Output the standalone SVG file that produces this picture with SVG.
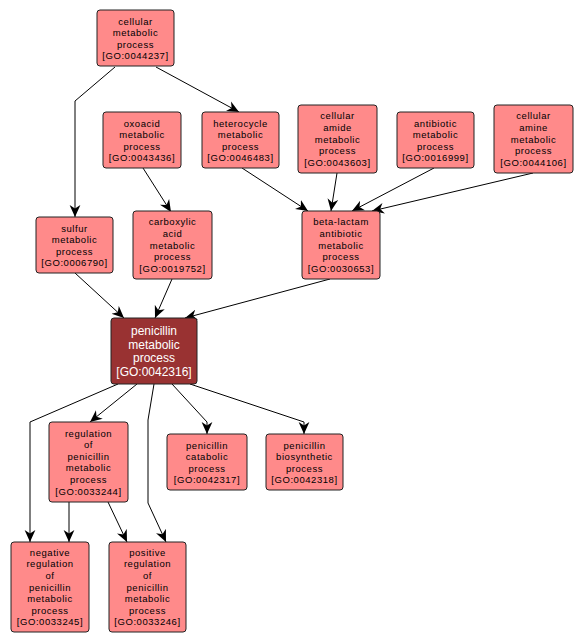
<svg xmlns="http://www.w3.org/2000/svg" width="582" height="644" viewBox="0 0 582 644">
<style>
.n rect{fill:#ff8a8a;stroke:#222;stroke-width:1}
.n text{font-family:"Liberation Sans",Arial,sans-serif;font-size:9.5px;letter-spacing:0.55px;text-anchor:middle;fill:#000}
.m rect{fill:#993232;stroke:#222;stroke-width:1}
.m text{font-family:"Liberation Sans",Arial,sans-serif;font-size:12px;text-anchor:middle;fill:#fff}
.e path{fill:none;stroke:#000;stroke-width:1;marker-end:url(#a)}
</style>
<defs>
<marker id="a" markerUnits="userSpaceOnUse" markerWidth="12" markerHeight="12" viewBox="0 0 10 10" refX="10" refY="5" orient="auto">
<path d="M0,0.5 L10,5 L0,9.5 L3,5 z" fill="#000"/>
</marker>
</defs>
<rect width="582" height="644" fill="#fff"/>
<g id="edges" class="e">
<path d="M115,67 L75,101 L75,217"/>
<path d="M156,67 L239,112"/>
<path d="M143,168 L171,212"/>
<path d="M242,168 L308,211"/>
<path d="M337,173 L331,211"/>
<path d="M434,168 L352,211"/>
<path d="M533,173 L372,211"/>
<path d="M75,273 L124,318"/>
<path d="M172,279 L155,318"/>
<path d="M330,279 L185,318"/>
<path d="M118,384 L30,422 L30,542"/>
<path d="M137,384 L90,422"/>
<path d="M154,384 L148,420 L148,503 L166,542"/>
<path d="M172,384 L207,422 L207,434"/>
<path d="M190,384 L304,422 L304,434"/>
<path d="M69,502 L69,542"/>
<path d="M108,502 L127,542"/>
</g>
<g id="n1" class="n"><rect x="97" y="10" width="77" height="56" rx="3"/>
<text x="135.5" y="24.6">cellular</text><text x="135.5" y="36.2">metabolic</text><text x="135.5" y="47.8">process</text><text x="135.5" y="59.4">[GO:0044237]</text></g>
<g id="n2" class="n"><rect x="103" y="112" width="78" height="56" rx="3"/>
<text x="142" y="126.6">oxoacid</text><text x="142" y="138.2">metabolic</text><text x="142" y="149.8">process</text><text x="142" y="161.4">[GO:0043436]</text></g>
<g id="n3" class="n"><rect x="202" y="112" width="77" height="56" rx="3"/>
<text x="240.5" y="126.6">heterocycle</text><text x="240.5" y="138.2">metabolic</text><text x="240.5" y="149.8">process</text><text x="240.5" y="161.4">[GO:0046483]</text></g>
<g id="n4" class="n"><rect x="298" y="105" width="79" height="68" rx="3"/>
<text x="337.5" y="119.3">cellular</text><text x="337.5" y="130.9">amide</text><text x="337.5" y="142.5">metabolic</text><text x="337.5" y="154.1">process</text><text x="337.5" y="165.7">[GO:0043603]</text></g>
<g id="n5" class="n"><rect x="397" y="112" width="77" height="56" rx="3"/>
<text x="435.5" y="126.6">antibiotic</text><text x="435.5" y="138.2">metabolic</text><text x="435.5" y="149.8">process</text><text x="435.5" y="161.4">[GO:0016999]</text></g>
<g id="n6" class="n"><rect x="494" y="105" width="79" height="68" rx="3"/>
<text x="533.5" y="119.3">cellular</text><text x="533.5" y="130.9">amine</text><text x="533.5" y="142.5">metabolic</text><text x="533.5" y="154.1">process</text><text x="533.5" y="165.7">[GO:0044106]</text></g>
<g id="n7" class="n"><rect x="302" y="211" width="78" height="68" rx="3"/>
<text x="341" y="225.3">beta-lactam</text><text x="341" y="236.9">antibiotic</text><text x="341" y="248.5">metabolic</text><text x="341" y="260.1">process</text><text x="341" y="271.7">[GO:0030653]</text></g>
<g id="n8" class="n"><rect x="36" y="217" width="77" height="56" rx="3"/>
<text x="74.5" y="231.6">sulfur</text><text x="74.5" y="243.2">metabolic</text><text x="74.5" y="254.8">process</text><text x="74.5" y="266.4">[GO:0006790]</text></g>
<g id="n9" class="n"><rect x="133" y="211" width="79" height="68" rx="3"/>
<text x="172.5" y="225.3">carboxylic</text><text x="172.5" y="236.9">acid</text><text x="172.5" y="248.5">metabolic</text><text x="172.5" y="260.1">process</text><text x="172.5" y="271.7">[GO:0019752]</text></g>
<g id="n10" class="m"><rect x="111" y="318" width="86" height="66" rx="3"/>
<text x="154" y="335">penicillin</text><text x="154" y="348.7">metabolic</text><text x="154" y="362.4">process</text><text x="154" y="376.1">[GO:0042316]</text></g>
<g id="n11" class="n"><rect x="49" y="422" width="79" height="80" rx="3"/>
<text x="88.5" y="436.5">regulation</text><text x="88.5" y="448.1">of</text><text x="88.5" y="459.7">penicillin</text><text x="88.5" y="471.3">metabolic</text><text x="88.5" y="482.9">process</text><text x="88.5" y="494.5">[GO:0033244]</text></g>
<g id="n12" class="n"><rect x="167" y="434" width="80" height="56" rx="3"/>
<text x="207" y="448.6">penicillin</text><text x="207" y="460.2">catabolic</text><text x="207" y="471.8">process</text><text x="207" y="483.4">[GO:0042317]</text></g>
<g id="n13" class="n"><rect x="266" y="434" width="77" height="56" rx="3"/>
<text x="304.5" y="448.6">penicillin</text><text x="304.5" y="460.2">biosynthetic</text><text x="304.5" y="471.8">process</text><text x="304.5" y="483.4">[GO:0042318]</text></g>
<g id="n14" class="n"><rect x="11" y="542" width="78" height="90" rx="3"/>
<text x="50" y="555.7">negative</text><text x="50" y="567.3">regulation</text><text x="50" y="578.9">of</text><text x="50" y="590.5">penicillin</text><text x="50" y="602.1">metabolic</text><text x="50" y="613.7">process</text><text x="50" y="625.3">[GO:0033245]</text></g>
<g id="n15" class="n"><rect x="109" y="542" width="77" height="90" rx="3"/>
<text x="147.5" y="555.7">positive</text><text x="147.5" y="567.3">regulation</text><text x="147.5" y="578.9">of</text><text x="147.5" y="590.5">penicillin</text><text x="147.5" y="602.1">metabolic</text><text x="147.5" y="613.7">process</text><text x="147.5" y="625.3">[GO:0033246]</text></g>
</svg>
